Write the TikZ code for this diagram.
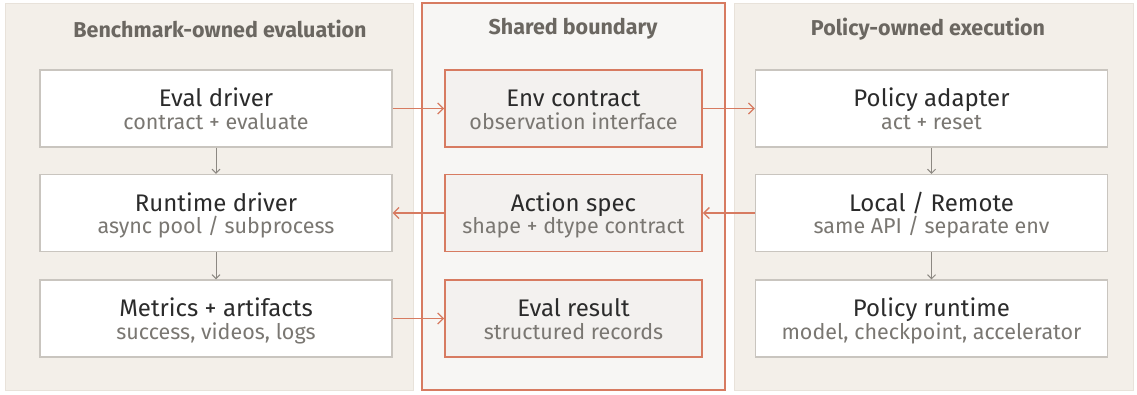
\documentclass[tikz,border=0pt]{standalone}
\usepackage{fontspec}
\setmainfont{Fira Sans}
\usetikzlibrary{arrows.meta}
\definecolor{panelfill}{HTML}{F3EFE9}
\definecolor{panelline}{HTML}{E8E2DA}
\definecolor{midfill}{HTML}{F7F6F4}
\definecolor{accent}{HTML}{D77B61}
\definecolor{accentfill}{HTML}{F3F1EF}
\definecolor{boxline}{HTML}{C9C5BF}
\definecolor{headtext}{HTML}{6B6761}
\definecolor{maintext}{HTML}{2B2B2B}
\definecolor{subtext}{HTML}{7A7772}
\definecolor{flowgray}{HTML}{8C8882}
\tikzset{
  panel/.style={draw=panelline, fill=panelfill, line width=0.8pt},
  midpanel/.style={draw=accent, fill=midfill, line width=1.3pt},
  heading/.style={font=\fontsize{21.5}{24}\selectfont\bfseries, text=headtext},
  card/.style={draw=boxline, fill=white, line width=1.2pt, minimum width=352pt, minimum height=77pt, inner sep=0pt},
  keycard/.style={draw=accent, fill=accentfill, line width=1.8pt, minimum width=257pt, minimum height=77pt, inner sep=0pt},
  cardtitle/.style={anchor=base, inner sep=0pt, font=\fontsize{24}{27}\selectfont, text=maintext},
  cardsub/.style={anchor=base, inner sep=0pt, font=\fontsize{21.5}{24}\selectfont, text=subtext},
  flow/.style={draw=accent, line width=1.3pt, -{Straight Barb[length=5.5pt,width=11pt]}},
  step arrow/.style={draw=flowgray, line width=1pt, -{Straight Barb[length=4pt,width=8pt]}},
}
% a card's two text lines, placed on fixed baselines inside it
\newcommand{\cardlines}[3]{%
  \node[cardtitle] (#1-t) at ([yshift=2pt]#1.center) {#2};
  \node[cardsub] (#1-s) at ([yshift=-20.5pt]#1.center) {#3};}
\begin{document}
\begin{tikzpicture}[x=1pt,y=-1pt]
  \useasboundingbox (0,0) rectangle (1137,394);
  % column panels
  \draw[panel] (5,3) rectangle (413,390);
  \draw[midpanel] (422,3) rectangle (725,390);
  \draw[panel] (734,3) rectangle (1133,390);
  \node[heading] (hl) at (220,29) {Benchmark-owned evaluation};
  \node[heading] (hm) at (573,29) {Shared boundary};
  \node[heading] (hr) at (928,29) {Policy-owned execution};
  % benchmark side
  \node[card] (evald) at (216,108.5) {};
  \node[card] (rund) at (216,213) {};
  \node[card] (metr) at (216,318.5) {};
  % shared contracts
  \node[keycard] (envc) at (573.5,108.5) {};
  \node[keycard] (acts) at (573.5,213) {};
  \node[keycard] (evr) at (573.5,318.5) {};
  % policy side
  \node[card] (pada) at (931.5,108.5) {};
  \node[card] (lore) at (931.5,213) {};
  \node[card] (prun) at (931.5,318.5) {};
  \cardlines{evald}{Eval driver}{contract + evaluate}
  \cardlines{rund}{Runtime driver}{async pool / subprocess}
  \cardlines{metr}{Metrics + artifacts}{success, videos, logs}
  \cardlines{envc}{Env contract}{observation interface}
  \cardlines{acts}{Action spec}{shape + dtype contract}
  \cardlines{evr}{Eval result}{structured records}
  \cardlines{pada}{Policy adapter}{act + reset}
  \cardlines{lore}{Local / Remote}{same API / separate env}
  \cardlines{prun}{Policy runtime}{model, checkpoint, accelerator}
  % vertical steps
  \draw[step arrow] (evald) -- (rund);
  \draw[step arrow] (rund) -- (metr);
  \draw[step arrow] (pada) -- (lore);
  \draw[step arrow] (lore) -- (prun);
  % cross-boundary flows
  \draw[flow] (evald) -- (envc);
  \draw[flow] (envc) -- (pada);
  \draw[flow] (lore) -- (acts);
  \draw[flow] (acts) -- (rund);
  \draw[flow] (metr) -- (evr);
\end{tikzpicture}
\end{document}
